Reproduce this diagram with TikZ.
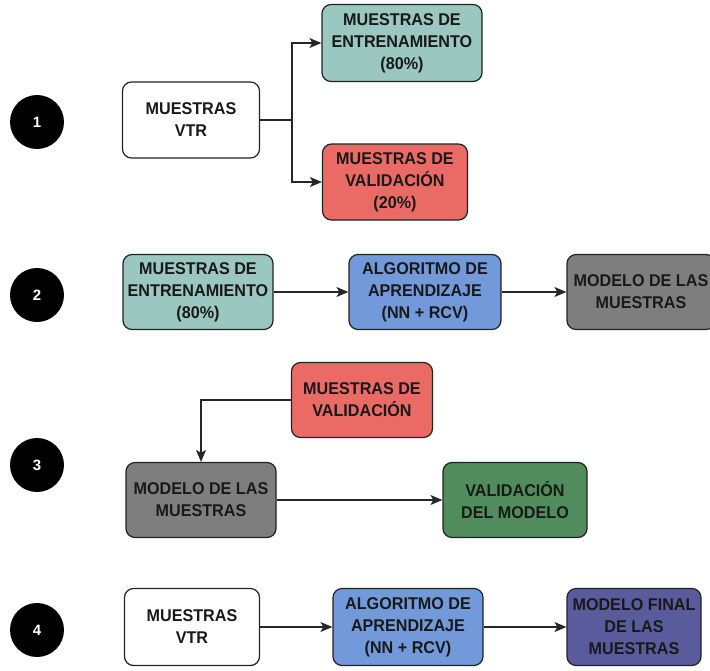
\documentclass[tikz,border=0pt]{standalone}
\usepackage{fontspec}
\setmainfont{Liberation Sans}
\newfontfamily\boxfont[FakeStretch=0.95]{Liberation Sans}
\usetikzlibrary{arrows.meta}
\definecolor{teal1}{HTML}{9AC7BF}
\definecolor{red1}{HTML}{EA6B66}
\definecolor{blue1}{HTML}{7299DA}
\definecolor{gray1}{HTML}{7E7E7E}
\definecolor{green1}{HTML}{518C5C}
\definecolor{purple1}{HTML}{5A5B9C}
\definecolor{edge1}{HTML}{222222}
\begin{document}
\begin{tikzpicture}[x=1pt,y=-1pt,
  box/.style={draw=edge1,line width=1.2pt,rounded corners=9pt,align=center,
    font=\boxfont\fontsize{17}{22}\selectfont\bfseries,text=black!90,inner sep=0pt},
  stepnum/.style={circle,fill=black,minimum size=54pt,inner sep=0pt,
    text=white,font=\fontsize{15}{17}\selectfont\bfseries},
  conn/.style={draw=black!85,line width=1.1pt,-{Stealth[length=12pt,width=10pt,inset=3pt]}}]
\useasboundingbox (0,0) rectangle (710,670);

% step markers
\node[stepnum] (s1) at (37,122) {1};
\node[stepnum] (s2) at (37,295) {2};
\node[stepnum] (s3) at (37,465) {3};
\node[stepnum] (s4) at (37,630) {4};

% 1: split of the samples
\node[box,fill=white,minimum width=137pt,minimum height=76pt] (vtr1) at (191,120) {MUESTRAS\\VTR};
\node[box,fill=teal1,minimum width=160pt,minimum height=77pt] (ent1) at (402,43) {MUESTRAS DE\\ENTRENAMIENTO\\(80\%)};
\node[box,fill=red1,minimum width=145pt,minimum height=76pt] (val1) at (395,182) {MUESTRAS DE\\VALIDACIÓN\\(20\%)};
\coordinate (j1) at (292,120);
\draw[draw=black!85,line width=1.1pt] (vtr1.east) -- (j1);
\draw[conn] (j1) |- (ent1.west);
\draw[conn] (j1) |- (val1.west);

% 2: training
\node[box,fill=teal1,minimum width=150pt,minimum height=75pt] (ent2) at (198,292) {MUESTRAS DE\\ENTRENAMIENTO\\(80\%)};
\node[box,fill=blue1,minimum width=152pt,minimum height=75pt] (alg2) at (425,292) {ALGORITMO DE\\APRENDIZAJE\\(NN + RCV)};
\node[box,fill=gray1,minimum width=148pt,minimum height=75pt] (mod2) at (641,292) {MODELO DE LAS\\MUESTRAS};
\draw[conn] (ent2) -- (alg2);
\draw[conn] (alg2) -- (mod2);

% 3: validation
\node[box,fill=red1,minimum width=141pt,minimum height=75pt] (val3) at (362,400) {MUESTRAS DE\\VALIDACIÓN};
\node[box,fill=gray1,minimum width=150pt,minimum height=75pt] (mod3) at (201,500) {MODELO DE LAS\\MUESTRAS};
\node[box,fill=green1,minimum width=144pt,minimum height=75pt] (vmod3) at (515,500) {VALIDACIÓN\\DEL MODELO};
\draw[conn] (val3.west) -| (mod3.north);
\draw[conn] (mod3) -- (vmod3);

% 4: final model
\node[box,fill=white,minimum width=135pt,minimum height=77pt] (vtr4) at (192,627) {MUESTRAS\\VTR};
\node[box,fill=blue1,minimum width=150pt,minimum height=77pt] (alg4) at (408,627) {ALGORITMO DE\\APRENDIZAJE\\(NN + RCV)};
\node[box,fill=purple1,minimum width=134pt,minimum height=77pt] (fin4) at (634,627) {MODELO FINAL\\DE LAS\\MUESTRAS};
\draw[conn] (vtr4) -- (alg4);
\draw[conn] (alg4) -- (fin4);
\end{tikzpicture}
\end{document}
